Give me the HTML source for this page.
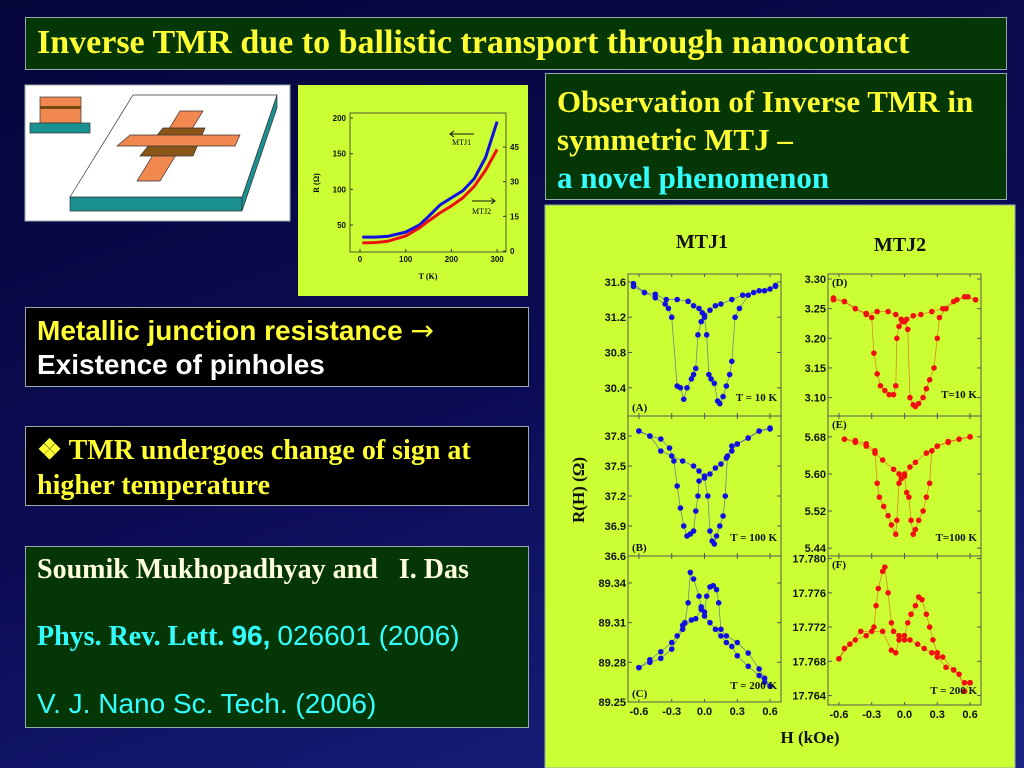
<!DOCTYPE html>
<html><head><meta charset="utf-8">
<style>
html,body{margin:0;padding:0}
body{width:1024px;height:768px;position:relative;overflow:hidden;background:linear-gradient(160deg,#05053a 0%,#0c0c55 50%,#1a2485 100%);font-family:"Liberation Serif",serif}
.box{position:absolute;box-sizing:border-box;border:1px solid #9aa;}
.t{position:absolute;white-space:nowrap;font-weight:bold}
svg{position:absolute;left:0;top:0}
</style></head><body>
<div class="box" style="left:25px;top:17px;width:982px;height:53px;background:#053605">
 <div class="t" style="left:11px;top:6px;font-size:34px;line-height:38px;color:#ffff33">Inverse TMR due to ballistic transport through nanocontact</div>
</div>
<div class="box" style="left:545px;top:73px;width:462px;height:127px;background:#053605">
 <div class="t" style="left:11px;top:9px;font-size:31px;line-height:38px;color:#ffff33">Observation of Inverse TMR in<br>symmetric MTJ –<br><span style="color:#33ffff">a novel phenomenon</span></div>
</div>
<div class="box" style="left:25px;top:307px;width:504px;height:80px;background:#000">
 <div class="t" style="left:11px;top:6px;font-family:'Liberation Sans',sans-serif;font-size:28px;line-height:34px;color:#ffff33">Metallic junction resistance <span style="font-family:'DejaVu Sans',sans-serif;font-weight:normal">→</span><br><span style="color:#fff">Existence of pinholes</span></div>
</div>
<div class="box" style="left:25px;top:426px;width:504px;height:80px;background:#000">
 <div class="t" style="left:11px;top:6px;font-size:28px;line-height:35px;color:#ffff33">❖ TMR undergoes change of sign at<br>higher temperature</div>
</div>
<div class="box" style="left:25px;top:546px;width:504px;height:182px;background:#053605">
 <div class="t" style="left:11px;top:7px;font-size:28px;color:#ffffdd">Soumik Mukhopadhyay and &nbsp; I. Das</div>
 <div class="t" style="left:11px;top:73px;font-size:28px;color:#33ffff">Phys. Rev. Lett. <span style="font-family:'Liberation Sans',sans-serif">96,</span> <span style="font-family:'Liberation Sans',sans-serif;font-weight:normal">026601 (2006)</span></div>
 <div class="t" style="left:11px;top:141px;font-size:28px;color:#33ffff;font-family:'Liberation Sans',sans-serif;font-weight:normal">V. J. Nano Sc. Tech. (2006)</div>
</div>
<svg id="s" width="1024" height="768" xmlns="http://www.w3.org/2000/svg"></svg>
<script>
// ---- data: R vs T ----
const T_vals=[5,30,60,100,130,150,175,200,225,250,275,300];
const R_mtj1=[33,33,34,40,50,62,78,88,98,115,145,195];
const R_mtj2=[3.5,3.6,4.2,6.5,10,13,16.5,19.5,23,28,35,44];
// ---- data: hysteresis panels (down-sweep / up-sweep) ----
const H_A1=[0.65,0.55,0.45,0.35,0.25,0.15,0.1,0.05,0.0,-0.03,-0.06,-0.08,-0.1,-0.12,-0.16,-0.19,-0.22,-0.25,-0.3,-0.33,-0.36,-0.45,-0.55,-0.65];
const R_A1=[31.56,31.5,31.48,31.45,31.4,31.35,31.33,31.28,31.22,31.15,31.0,30.62,30.55,30.5,30.4,30.27,30.4,30.42,31.2,31.3,31.35,31.42,31.48,31.58];
const H_A2=[-0.65,-0.55,-0.45,-0.35,-0.25,-0.15,-0.1,-0.05,-0.02,0.0,0.02,0.04,0.06,0.09,0.12,0.14,0.17,0.2,0.23,0.25,0.28,0.32,0.4,0.5,0.6,0.65];
const R_A2=[31.55,31.48,31.46,31.4,31.4,31.38,31.33,31.3,31.25,31.2,31.0,30.55,30.5,30.45,30.25,30.22,30.3,30.42,30.55,30.7,31.2,31.3,31.45,31.5,31.52,31.55];
const H_B1=[0.6,0.5,0.4,0.3,0.25,0.2,0.15,0.1,0.05,0.0,-0.05,-0.06,-0.08,-0.1,-0.13,-0.16,-0.19,-0.22,-0.25,-0.28,-0.32,-0.4,-0.5,-0.6];
const R_B1=[37.87,37.85,37.78,37.72,37.65,37.58,37.52,37.48,37.42,37.4,37.35,37.2,37.05,36.85,36.82,36.8,36.9,37.08,37.3,37.55,37.68,37.77,37.8,37.85];
const H_B2=[-0.6,-0.5,-0.4,-0.3,-0.2,-0.1,-0.05,0.0,0.03,0.05,0.07,0.09,0.11,0.14,0.17,0.19,0.21,0.25,0.3,0.4,0.5,0.6];
const R_B2=[37.85,37.8,37.65,37.6,37.55,37.5,37.45,37.38,37.2,36.85,36.75,36.72,36.8,36.9,37.0,37.2,37.6,37.7,37.72,37.78,37.85,37.88];
const H_C1=[0.6,0.55,0.5,0.4,0.3,0.25,0.2,0.15,0.1,0.05,0.0,-0.03,-0.05,-0.1,-0.13,-0.15,-0.18,-0.2,-0.25,-0.3,-0.4,-0.5,-0.6];
const R_C1=[89.262,89.265,89.27,89.277,89.285,89.292,89.295,89.3,89.305,89.31,89.315,89.322,89.33,89.343,89.348,89.325,89.31,89.308,89.3,89.295,89.288,89.282,89.276];
const H_C2=[-0.6,-0.5,-0.4,-0.3,-0.2,-0.12,-0.08,-0.03,0.0,0.02,0.05,0.08,0.11,0.13,0.15,0.2,0.3,0.4,0.5,0.55,0.6];
const R_C2=[89.276,89.28,89.283,89.29,89.305,89.312,89.313,89.32,89.318,89.33,89.337,89.338,89.335,89.325,89.305,89.3,89.295,89.287,89.275,89.268,89.262];
const H_D1=[0.65,0.55,0.45,0.35,0.25,0.15,0.08,0.02,-0.02,-0.05,-0.07,-0.08,-0.1,-0.14,-0.18,-0.22,-0.25,-0.28,-0.3,-0.35,-0.45,-0.55,-0.65];
const R_D1=[3.265,3.27,3.262,3.25,3.245,3.24,3.238,3.232,3.228,3.22,3.2,3.12,3.105,3.105,3.112,3.12,3.14,3.175,3.235,3.242,3.25,3.262,3.265];
const H_D2=[-0.65,-0.55,-0.45,-0.35,-0.25,-0.15,-0.08,-0.03,0.0,0.03,0.05,0.08,0.1,0.13,0.17,0.2,0.23,0.27,0.3,0.32,0.38,0.48,0.58,0.65];
const R_D2=[3.268,3.262,3.25,3.24,3.245,3.245,3.24,3.232,3.228,3.215,3.1,3.088,3.085,3.09,3.1,3.115,3.13,3.15,3.2,3.235,3.25,3.265,3.27,3.265];
const H_E1=[0.6,0.5,0.4,0.3,0.2,0.1,0.05,0.0,-0.03,-0.05,-0.07,-0.08,-0.12,-0.15,-0.19,-0.23,-0.25,-0.27,-0.35,-0.45,-0.55];
const R_E1=[5.68,5.675,5.668,5.66,5.645,5.625,5.615,5.6,5.59,5.58,5.5,5.47,5.49,5.51,5.53,5.55,5.58,5.65,5.665,5.672,5.675];
const H_E2=[-0.55,-0.45,-0.35,-0.27,-0.2,-0.1,-0.05,0.0,0.02,0.04,0.06,0.08,0.1,0.13,0.17,0.2,0.23,0.25,0.3,0.4,0.5,0.6];
const R_E2=[5.675,5.668,5.66,5.645,5.63,5.61,5.6,5.595,5.56,5.55,5.5,5.47,5.48,5.5,5.52,5.55,5.58,5.65,5.66,5.67,5.675,5.68];
const H_F1=[0.6,0.55,0.5,0.45,0.38,0.3,0.25,0.18,0.12,0.05,0.0,-0.05,-0.1,-0.12,-0.15,-0.18,-0.2,-0.24,-0.26,-0.28,-0.35,-0.45,-0.55,-0.6];
const R_F1=[17.7655,17.7645,17.7665,17.767,17.7673,17.7685,17.769,17.7695,17.77,17.7705,17.7705,17.771,17.7715,17.7725,17.776,17.779,17.7785,17.7765,17.7745,17.772,17.771,17.7705,17.7695,17.7683];
const H_F2=[-0.6,-0.5,-0.4,-0.3,-0.2,-0.12,-0.08,-0.05,0.0,0.03,0.06,0.1,0.13,0.16,0.2,0.23,0.26,0.3,0.35,0.45,0.55,0.6];
const R_F2=[17.7683,17.77,17.7715,17.7715,17.7715,17.7693,17.769,17.7705,17.771,17.7725,17.7735,17.7745,17.7755,17.7752,17.7735,17.772,17.7705,17.769,17.7685,17.767,17.7655,17.7655];
const ticksA=[30.4,30.8,31.2,31.6], ticksB=[36.6,36.9,37.2,37.5,37.8], ticksC=[89.25,89.28,89.31,89.34];
const ticksD=[3.10,3.15,3.20,3.25,3.30], ticksE=[5.44,5.52,5.60,5.68], ticksF=[17.764,17.768,17.772,17.776,17.780];
const ticksH=[-0.6,-0.3,0.0,0.3,0.6];
const ticksT=[0,100,200,300], ticksRL=[50,100,150,200], ticksRR=[0,15,30,45];

const S=document.getElementById('s');
const NS='http://www.w3.org/2000/svg';
function mk(tag,at,par){const e=document.createElementNS(NS,tag);for(const k in at)e.setAttribute(k,at[k]);(par||S).appendChild(e);return e;}
function txt(x,y,s,at,par){const e=mk('text',Object.assign({x:x,y:y},at),par);e.textContent=s;return e;}

const p1=mk('rect',{x:298,y:85,width:230,height:211,fill:'#ccff33'});


const p2=mk('rect',{x:545,y:205,width:470,height:563,fill:'#ccff33',stroke:'#9aa'});



const dev=mk('g',{});


mk('rect',{x:25,y:85,width:265,height:136,fill:'#fff',stroke:'#9aa'},dev);
mk('rect',{x:40,y:97,width:41,height:26,fill:'#f08850',stroke:'#333','stroke-width':0.7},dev);
mk('rect',{x:40,y:106,width:41,height:3,fill:'#7a4a10'},dev);
mk('rect',{x:30,y:123,width:60,height:10,fill:'#1a9090',stroke:'#333','stroke-width':0.7},dev);
mk('polygon',{points:'70,197 242,197 242,211 70,211',fill:'#1a9090',stroke:'#333','stroke-width':0.7},dev);
mk('polygon',{points:'242,197 277,95 277,108 242,211',fill:'#1a9090',stroke:'#333','stroke-width':0.7},dev);
mk('polygon',{points:'133,95 277,95 242,197 70,197',fill:'#fff',stroke:'#333','stroke-width':0.7},dev);
mk('polygon',{points:'180,111 203,111 160,181 137,181',fill:'#f08850',stroke:'#333','stroke-width':0.7},dev);
mk('polygon',{points:'163,128 205,128 193,156 140,156',fill:'#8a5518',stroke:'#333','stroke-width':0.7},dev);
mk('polygon',{points:'130,135 240,135 235,146 117,146',fill:'#f08850',stroke:'#333','stroke-width':0.7},dev);

const rt=mk('g',{});


const tx=t=>360+t*0.457, ryL=r=>225-(r-50)*0.713, ryR=r=>251-r*2.31;
mk('rect',{x:350,y:113,width:156,height:139,fill:'none',stroke:'#333','stroke-width':0.8},rt);
const tf={'font-family':'Liberation Sans,sans-serif','font-size':8,'font-weight':'bold',fill:'#111'};
ticksT.forEach(t=>{mk('line',{x1:tx(t),x2:tx(t),y1:252,y2:249,stroke:'#333'},rt);txt(tx(t),262,String(t),Object.assign({'text-anchor':'middle'},tf),rt);});
ticksRL.forEach(r=>{mk('line',{x1:350,x2:353,y1:ryL(r),y2:ryL(r),stroke:'#333'},rt);txt(346,ryL(r)+3,String(r),Object.assign({'text-anchor':'end'},tf),rt);});
ticksRR.forEach(r=>{mk('line',{x1:506,x2:503,y1:ryR(r),y2:ryR(r),stroke:'#333'},rt);txt(510,ryR(r)+3,String(r),tf,rt);});
txt(428,279,'T (K)',{'font-family':'Liberation Serif,serif','font-size':8,'font-weight':'bold','text-anchor':'middle'},rt);
txt(0,0,'R (Ω)',{'font-family':'Liberation Serif,serif','font-size':8,'font-weight':'bold','text-anchor':'middle',transform:'translate(319,183) rotate(-90)'},rt);
const l1=mk('polyline',{points:T_vals.map((t,i)=>tx(t)+','+ryL(R_mtj1[i])).join(' '),fill:'none',stroke:'#1010e0','stroke-width':3,'stroke-linejoin':'round'},rt);


const l2=mk('polyline',{points:T_vals.map((t,i)=>tx(t)+','+ryR(R_mtj2[i])).join(' '),fill:'none',stroke:'#ee1010','stroke-width':3,'stroke-linejoin':'round'},rt);


txt(452,145,'MTJ1',{'font-size':8,'font-family':'Liberation Serif,serif'},rt);
mk('line',{x1:450,x2:474,y1:134,y2:134,stroke:'#111'},rt);mk('polyline',{points:'454,131 450,134 454,137',fill:'none',stroke:'#111'},rt);
txt(472,214,'MTJ2',{'font-size':8,'font-family':'Liberation Serif,serif'},rt);
mk('line',{x1:472,x2:495,y1:201,y2:201,stroke:'#111'},rt);mk('polyline',{points:'491,198 495,201 491,204',fill:'none',stroke:'#111'},rt);

function panel(name,x0,x1,y0,y1,vTop,vBot,ticks,dec,sets,color,label,temp,lblPos,xticks){
  const g=mk('g',{});
  
  
  const xc=(x0+x1)/2, sx=(x1-x0)/1.4;
  const X=h=>xc+h*sx, Y=v=>y0+(vTop-v)/(vTop-vBot)*(y1-y0);
  mk('rect',{x:x0,y:y0,width:x1-x0,height:y1-y0,fill:'none',stroke:'#555','stroke-width':1},g);
  const f={'font-family':'Liberation Sans,sans-serif','font-size':11,'font-weight':'bold',fill:'#111','text-anchor':'end'};
  ticks.forEach(v=>{const y=Y(v);mk('line',{x1:x0,x2:x0+4,y1:y,y2:y,stroke:'#555'},g);mk('line',{x1:x1,x2:x1-4,y1:y,y2:y,stroke:'#555'},g);txt(x0-2,y+4,v.toFixed(dec),f,g);});
  ticksH.forEach(h=>{mk('line',{x1:X(h),x2:X(h),y1:y0,y2:y0+3,stroke:'#555'},g);mk('line',{x1:X(h),x2:X(h),y1:y1,y2:y1-3,stroke:'#555'},g);
    if(xticks)txt(X(h),y1+13,h.toFixed(1),Object.assign({},f,{'text-anchor':'middle'}),g);});
  sets.forEach(([H,R])=>{
    mk('polyline',{points:H.map((h,i)=>X(h)+','+Y(R[i])).join(' '),fill:'none',stroke:color,'stroke-opacity':0.5,'stroke-width':0.8},g);
    H.forEach((h,i)=>{const c=mk('circle',{cx:X(h),cy:Y(R[i]),r:2.8,fill:color},g);
      
      });
  });
  const sf={'font-family':'Liberation Serif,serif','font-size':11,'font-weight':'bold',fill:'#111'};
  txt(x0+4,lblPos==='top'?y0+12:y1-5,label,sf,g);
  txt(x1-4,temp[1],temp[0],Object.assign({},sf,{'text-anchor':'end'}),g);
}
const blue='#1010e0', red='#f01010';
panel('panel-a-mtj1-10k',628,781,274,416,31.69,30.08,ticksA,1,[[H_A1,R_A1],[H_A2,R_A2]],blue,'(A)',['T = 10 K',401],'bot',false);
panel('panel-b-mtj1-100k',628,781,416,556,38.0,36.6,ticksB,1,[[H_B1,R_B1],[H_B2,R_B2]],blue,'(B)',['T = 100 K',541],'bot',false);
panel('panel-c-mtj1-200k',628,781,556,702,89.3604,89.25,ticksC,2,[[H_C1,R_C1],[H_C2,R_C2]],blue,'(C)',['T = 200 K',689],'bot',true);
panel('panel-d-mtj2-10k',828,981,274,416,3.3084,3.069,ticksD,2,[[H_D1,R_D1],[H_D2,R_D2]],red,'(D)',['T=10 K',398],'top',false);
panel('panel-e-mtj2-100k',828,981,416,556,5.725,5.423,ticksE,2,[[H_E1,R_E1],[H_E2,R_E2]],red,'(E)',['T=100 K',541],'top',false);
panel('panel-f-mtj2-200k',828,981,556,705,17.7803,17.7629,ticksF,3,[[H_F1,R_F1],[H_F2,R_F2]],red,'(F)',['T = 200 K',694],'top',true);
const hf={'font-family':'Liberation Serif,serif','font-weight':'bold',fill:'#111','text-anchor':'middle'};
const m1=txt(702,248,'MTJ1',Object.assign({'font-size':20},hf));


const m2=txt(900,251,'MTJ2',Object.assign({'font-size':20},hf));


const xl=txt(810,743,'H (kOe)',Object.assign({'font-size':17},hf));


const yl=txt(0,0,'R(H) (Ω)',Object.assign({'font-size':17,transform:'translate(584,490) rotate(-90)'},hf));


</script>
</body></html>
